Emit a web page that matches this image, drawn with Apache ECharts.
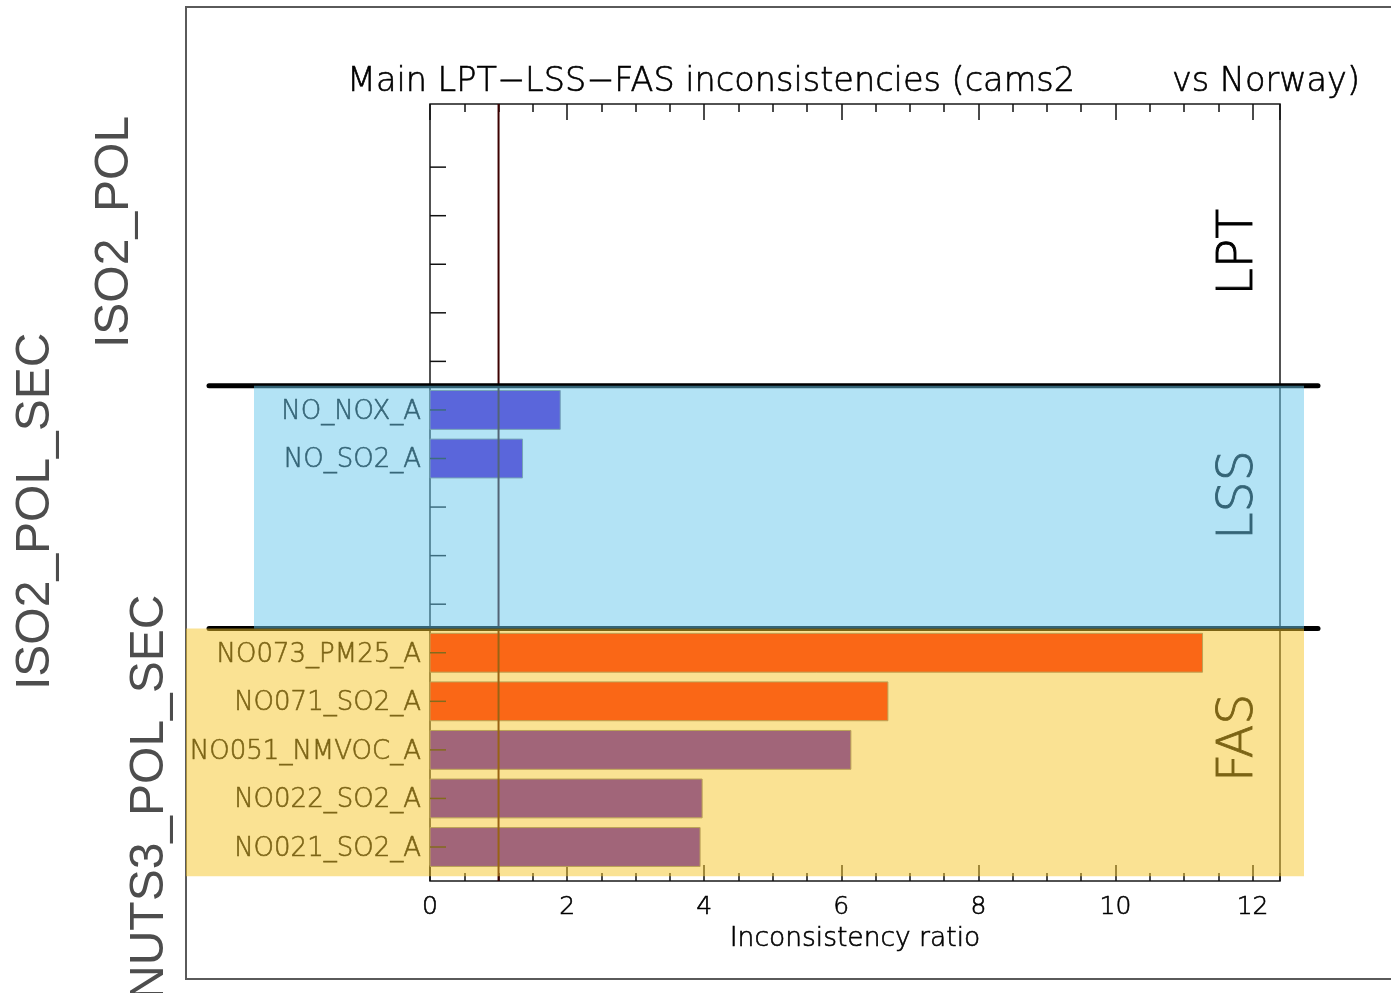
<!DOCTYPE html>
<html>
<head>
<meta charset="utf-8">
<script src="https://cdn.jsdelivr.net/npm/echarts@6/dist/echarts.min.js"></script>
<style>
  html, body { margin: 0; padding: 0; background: #ffffff; }
  #chart { width: 1391px; height: 993px; }
</style>
</head>
<body>
<div id="chart"></div>
<script>
// Rows listed bottom to top; slot is the row position on the vertical axis
const rowLabels = ['NO021_SO2_A', 'NO022_SO2_A', 'NO051_NMVOC_A', 'NO071_SO2_A', 'NO073_PM25_A', 'NO_SO2_A', 'NO_NOX_A'];
const rowSlots = [0, 1, 2, 3, 4, 8, 9];
const ratios = [3.94, 3.97, 6.14, 6.68, 11.27, 1.35, 1.90];
const flags = ['low', 'low', 'low', 'high', 'high', 'low', 'low'];

// Vertical reference at ratio 1
const referenceRatio = 1;

// Sections: names, label anchors and shaded extents (on the slot axis)
const sectionNames = ['FAS', 'LSS', 'LPT'];
const sectionLabelPos = [2.25, 7.25, 12.25];
const sectionBounds = [4.5, 9.5];
const shadedNames = ['FAS', 'LSS'];
const shadedFrom = [-0.6, 4.5];
const shadedTo = [4.5, 9.5];

// Minor row ticks on the left axis
const rowTicks = [0, 1, 2, 3, 4, 5, 6, 7, 8, 9, 10, 11, 12, 13, 14];

// Aggregation levels written down the left side
const levelNames = ['ISO2_POL', 'ISO2_POL_SEC', 'NUTS3_POL_SEC'];

const xMin = 0, xMax = 12.4, yMin = -0.7, yMax = 15.3;

const HERSHEY = '"DejaVu Sans"';
const THIN = '200 ';
const INK = { fill: '#000', stroke: '#000', lineWidth: 0.6 };
const barColors = { low: '#4d04cb', high: '#ff0905' };
const shadeColors = { FAS: 'rgba(245,197,39,0.5)', LSS: 'rgba(103,199,235,0.5)' };

const chart = echarts.init(document.getElementById('chart'), null, { renderer: 'canvas' });

function xAxisDef(position, interval, tickLen, withLabels) {
  const ax = {
    type: 'value', position: position, min: xMin, max: xMax, interval: interval,
    axisLine: { show: false, onZero: false },
    axisTick: { show: true, inside: true, length: tickLen, lineStyle: { color: '#111', width: 1.5 } },
    axisLabel: { show: false },
    splitLine: { show: false }
  };
  if (withLabels) {
    ax.axisLabel = { show: true, fontSize: 25, fontWeight: 200, fontFamily: HERSHEY, color: '#000', textBorderColor: '#000', textBorderWidth: 0.6, margin: 14, showMaxLabel: false };
    ax.name = 'Inconsistency ratio';
    ax.nameLocation = 'middle';
    ax.nameGap = 43;
    ax.nameTextStyle = { fontSize: 26.5, fontWeight: 200, fontFamily: HERSHEY, color: '#000', textBorderColor: '#000', textBorderWidth: 0.6 };
  }
  return ax;
}

function inkText(text, font, align) {
  return Object.assign({ text: text, font: font, align: align, verticalAlign: 'middle' }, INK);
}

const barData = ratios.map((v, i) => [v, rowSlots[i], flags[i]]);
const labelData = rowLabels.map((t, i) => [0, rowSlots[i], t]);
const tickData = rowTicks.map(s => [0, s]);
const sepData = sectionBounds.map(b => [0, b]);
const sectionLabelData = sectionNames.map((n, i) => [xMax, sectionLabelPos[i], n]);
const shadeData = shadedNames.map((n, i) => [shadedFrom[i], shadedTo[i], n]);

const option = {
  animation: false,
  backgroundColor: '#ffffff',
  grid: { left: 430, top: 104, width: 850, height: 777, show: true, borderColor: '#1a1a1a', borderWidth: 1.5, backgroundColor: 'transparent' },
  xAxis: [
    xAxisDef('bottom', 2, 16, true),
    xAxisDef('bottom', 0.5, 8, false),
    xAxisDef('top', 2, 16, false),
    xAxisDef('top', 0.5, 8, false)
  ],
  yAxis: { type: 'value', min: yMin, max: yMax, show: false },
  graphic: [
    { type: 'rect', z: 0, shape: { x: 186, y: 7, width: 1300, height: 972 }, style: { fill: 'none', stroke: '#5a5a5a', lineWidth: 2 } },
    { type: 'text', z: 1, x: 347, y: 82, style: inkText('Main LPT\u2212LSS\u2212FAS inconsistencies (cams2', THIN + '33.5px ' + HERSHEY, 'left') },
    { type: 'rect', z: 2, shape: { x: 1077, y: 58, width: 92, height: 42 }, style: { fill: '#ffffff' } },
    { type: 'text', z: 3, x: 1360, y: 82, style: inkText('vs Norway)', THIN + '33.5px ' + HERSHEY, 'right') },
    { type: 'text', z: 1, x: 115, y: 348, rotation: Math.PI / 2, style: { text: levelNames[0], font: '48px "Liberation Sans"', fill: '#4d4d4d', align: 'left', verticalAlign: 'middle' } },
    { type: 'text', z: 1, x: 36, y: 690, rotation: Math.PI / 2, style: { text: levelNames[1], font: '48px "Liberation Sans"', fill: '#4d4d4d', align: 'left', verticalAlign: 'middle' } },
    { type: 'text', z: 1, x: 150, y: 1000, rotation: Math.PI / 2, style: { text: levelNames[2], font: '48px "Liberation Sans"', fill: '#4d4d4d', align: 'left', verticalAlign: 'middle' } }
  ],
  series: [
    {
      // horizontal bars, one per flagged row
      type: 'custom', name: 'ratio', z: 2, clip: false,
      data: barData,
      renderItem: function (params, api) {
        const v = api.value(0), s = api.value(1);
        const p0 = api.coord([0, s]);
        const p1 = api.coord([v, s]);
        const h = api.size([0, 0.8])[1];
        const flag = barData[params.dataIndex][2];
        return {
          type: 'rect',
          shape: { x: p0[0], y: p0[1] - h / 2, width: p1[0] - p0[0], height: h },
          style: { fill: barColors[flag], stroke: '#808080', lineWidth: 1 }
        };
      }
    },
    {
      // row ticks on the left axis
      type: 'custom', name: 'rowTicks', z: 3, clip: false,
      data: tickData,
      renderItem: function (params, api) {
        const p = api.coord([0, api.value(1)]);
        return { type: 'line', shape: { x1: p[0], y1: p[1], x2: p[0] + 16, y2: p[1] }, style: { stroke: '#111', lineWidth: 1.5 } };
      }
    },
    {
      // row names
      type: 'custom', name: 'rowLabels', z: 3, clip: false,
      data: labelData,
      renderItem: function (params, api) {
        const p = api.coord([0, api.value(1)]);
        const st = inkText(labelData[params.dataIndex][2], THIN + '26px ' + HERSHEY, 'right');
        st.x = p[0] - 9;
        st.y = p[1] + 2;
        return { type: 'text', style: st };
      }
    },
    {
      // reference line at ratio 1
      type: 'custom', name: 'reference', z: 3, clip: false,
      data: [[referenceRatio, 0]],
      renderItem: function (params, api) {
        const cs = params.coordSys;
        const p = api.coord([api.value(0), 0]);
        return { type: 'line', shape: { x1: p[0], y1: cs.y, x2: p[0], y2: cs.y + cs.height }, style: { stroke: '#3c0000', lineWidth: 2 } };
      }
    },
    {
      // thick section separators
      type: 'custom', name: 'separators', z: 3, clip: false,
      data: sepData,
      renderItem: function (params, api) {
        const cs = params.coordSys;
        const p = api.coord([0, api.value(1)]);
        return { type: 'line', shape: { x1: cs.x - 221, y1: p[1], x2: cs.x + cs.width + 38, y2: p[1] }, style: { stroke: '#000', lineWidth: 5, lineCap: 'round' } };
      }
    },
    {
      // section names on the right
      type: 'custom', name: 'sections', z: 3, clip: false,
      data: sectionLabelData,
      renderItem: function (params, api) {
        const p = api.coord([api.value(0), api.value(1)]);
        const st = inkText(sectionLabelData[params.dataIndex][2], THIN + '49px ' + HERSHEY, 'center');
        st.x = 0;
        st.y = 0;
        st.lineWidth = 0.9;
        return { type: 'text', x: p[0] - 41, y: p[1], rotation: Math.PI / 2, style: st };
      }
    },
    {
      // translucent section shading
      type: 'custom', name: 'shading', z: 10, clip: false,
      data: shadeData,
      renderItem: function (params, api) {
        const cs = params.coordSys;
        const name = shadeData[params.dataIndex][2];
        const top = api.coord([0, api.value(1)])[1];
        const bottom = api.coord([0, api.value(0)])[1];
        const left = name === 'LSS' ? cs.x - 176 : cs.x - 244;
        const right = cs.x + cs.width + 24;
        return { type: 'rect', shape: { x: left, y: top, width: right - left, height: bottom - top }, style: { fill: shadeColors[name] } };
      }
    }
  ]
};

chart.setOption(option);
</script>
</body>
</html>
